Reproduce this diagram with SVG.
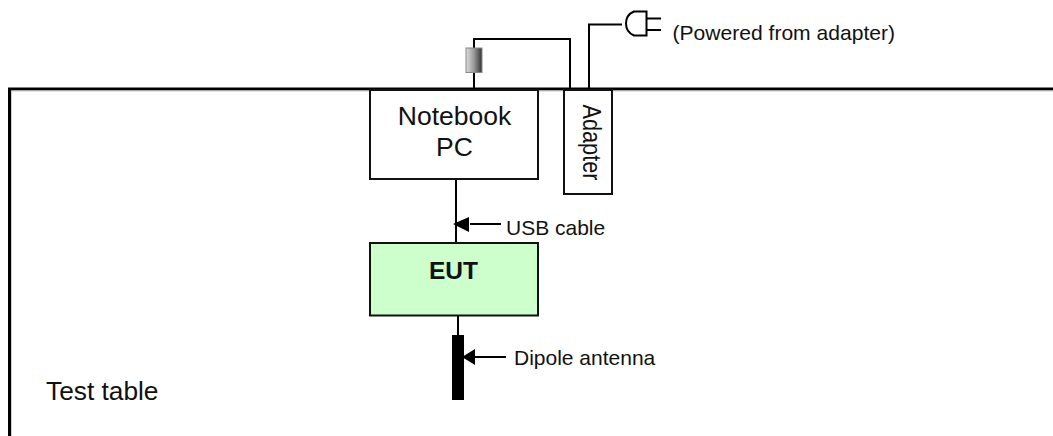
<svg xmlns="http://www.w3.org/2000/svg" width="1053" height="436" viewBox="0 0 1053 436">
<style>
text{font-family:"Liberation Sans",Arial,sans-serif;fill:#111}
.l{fill:none;stroke:#000;stroke-width:2}
.b{fill:#fff;stroke:#111;stroke-width:2}
</style>
<defs>
<linearGradient id="g"><stop offset="0" stop-color="#ddd"/><stop offset="0.5" stop-color="#999"/><stop offset="1" stop-color="#333"/></linearGradient>
</defs>
<rect width="1053" height="436" fill="#fff"/>
<g id="connectors">
<path class="l" d="M474 88V39H570V88"/>
<path class="l" d="M589 88V24.500H622"/>
<path class="l" d="M456 179V243"/>
<path class="l" d="M458 316V336"/>
<path class="l" d="M501 224H470"/>
<polygon points="453,224 469,217 469,232" fill="#000"/>
<path class="l" d="M506 357H470"/>
<polygon points="462,357 475,349 475,365" fill="#000"/>
</g>
<g id="test-table">
<path d="M9.500 436V89H1053" fill="none" stroke="#000" stroke-width="3"/>
<path d="M11.500 436V91H1053" fill="none" stroke="#ccc" stroke-width="1"/>
<text x="46" y="399.500" font-size="26.500" textLength="112.500" lengthAdjust="spacingAndGlyphs">Test table</text>
</g>
<g id="notebook-pc">
<rect class="b" x="370" y="90" width="168" height="89"/>
<text x="454.500" y="125" font-size="26.500" text-anchor="middle">Notebook</text>
<text x="454.500" y="155.500" font-size="26.500" text-anchor="middle">PC</text>
</g>
<g id="adapter">
<rect class="b" x="564" y="90" width="48" height="104"/>
<text transform="translate(583 104.500) rotate(90)" font-size="25" textLength="76" lengthAdjust="spacingAndGlyphs">Adapter</text>
</g>
<g id="connector-plug">
<rect x="466" y="48" width="16" height="24.500" fill="url(#g)" stroke="#888" stroke-width="1"/>
</g>
<g id="power-plug">
<path class="l" d="M646.500 11.500H634A13 13 0 0 0 634 35.500H646.500ZM646.500 18.500H661M646.500 30H661"/>
<text x="672.500" y="40" font-size="21" textLength="222.500" lengthAdjust="spacingAndGlyphs">(Powered from adapter)</text>
</g>
<g id="usb-cable"><text x="506" y="235" font-size="21">USB cable</text></g>
<g id="eut">
<rect x="370" y="243" width="168" height="72.500" fill="#ccffcc" stroke="#111" stroke-width="2"/>
<text x="453.500" y="278.500" font-size="24.500" font-weight="bold" text-anchor="middle">EUT</text>
</g>
<g id="dipole-antenna">
<rect x="452" y="335" width="12" height="65" fill="#000"/>
<text x="514" y="365" font-size="21">Dipole antenna</text>
</g>
</svg>
